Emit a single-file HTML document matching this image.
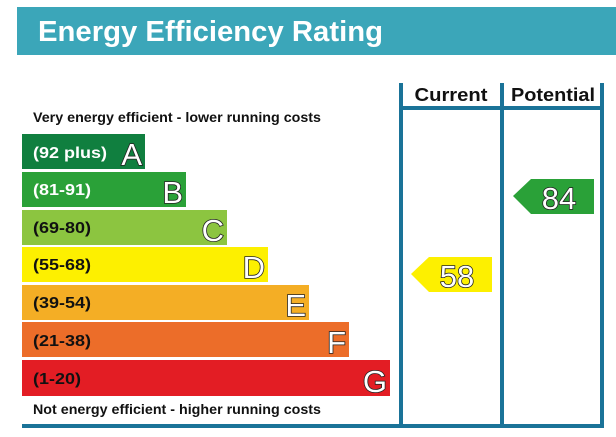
<!DOCTYPE html>
<html><head><style>
html,body{margin:0;padding:0;background:#fff;width:616px;height:437px;overflow:hidden}
svg{display:block}
text{font-family:"Liberation Sans",sans-serif}
</style></head><body>
<svg width="616" height="437" viewBox="0 0 616 437">
<rect x="17" y="7" width="599" height="48" fill="#3ba6b9"/>
<text x="38" y="41" fill="#fff" font-size="29" font-weight="bold" textLength="345" lengthAdjust="spacingAndGlyphs">Energy Efficiency Rating</text>
<text x="33" y="122" font-size="13.5" font-weight="bold" fill="#111" textLength="288" lengthAdjust="spacingAndGlyphs">Very energy efficient - lower running costs</text>
<text x="33" y="414" font-size="13.5" font-weight="bold" fill="#111" textLength="288" lengthAdjust="spacingAndGlyphs">Not energy efficient - higher running costs</text>
<g font-weight="bold" font-size="16">
<rect x="22" y="134" width="123" height="35" fill="#107f3f"/>
<text x="33" y="158" fill="#fff" textLength="74" lengthAdjust="spacingAndGlyphs">(92 plus)</text>
<rect x="22" y="172" width="164" height="35" fill="#2aa138"/>
<text x="33" y="195" fill="#fff" textLength="58" lengthAdjust="spacingAndGlyphs">(81-91)</text>
<rect x="22" y="210" width="205" height="35" fill="#8cc540"/>
<text x="33" y="233" fill="#111" textLength="58" lengthAdjust="spacingAndGlyphs">(69-80)</text>
<rect x="22" y="247" width="246" height="35" fill="#fdf000"/>
<text x="33" y="270" fill="#111" textLength="58" lengthAdjust="spacingAndGlyphs">(55-68)</text>
<rect x="22" y="285" width="287" height="35" fill="#f4ae25"/>
<text x="33" y="308" fill="#111" textLength="58" lengthAdjust="spacingAndGlyphs">(39-54)</text>
<rect x="22" y="322" width="327" height="35" fill="#ec6d29"/>
<text x="33" y="346" fill="#111" textLength="58" lengthAdjust="spacingAndGlyphs">(21-38)</text>
<rect x="22" y="360" width="368" height="36" fill="#e31d24"/>
<text x="33" y="384" fill="#111" textLength="48" lengthAdjust="spacingAndGlyphs">(1-20)</text>
</g>
<g font-size="31" fill="#fff" stroke="#222" stroke-width="1.6" text-anchor="end" paint-order="stroke">
<text x="142" y="165">A</text>
<text x="183" y="203">B</text>
<text x="224" y="241">C</text>
<text x="265" y="278">D</text>
<text x="306" y="316">E</text>
<text x="346" y="353">F</text>
<text x="387" y="392">G</text>
</g>
<g fill="#1a7398">
<rect x="399" y="83" width="4" height="345"/>
<rect x="500" y="83" width="4" height="345"/>
<rect x="600" y="83" width="4" height="345"/>
<rect x="399" y="106" width="205" height="4"/>
<rect x="22" y="424" width="582" height="4"/>
</g>
<text x="451" y="101" font-size="18" font-weight="bold" text-anchor="middle" fill="#111" textLength="73" lengthAdjust="spacingAndGlyphs">Current</text>
<text x="553" y="101" font-size="18" font-weight="bold" text-anchor="middle" fill="#111" textLength="84" lengthAdjust="spacingAndGlyphs">Potential</text>
<polygon points="411,274 429,257 492,257 492,292 429,292" fill="#fdf000"/>
<text x="457" y="287" font-size="31" text-anchor="middle" fill="#fff" stroke="#222" stroke-width="1.6" paint-order="stroke">58</text>
<polygon points="513,196 531,179 594,179 594,214 531,214" fill="#2aa138"/>
<text x="559" y="209" font-size="31" text-anchor="middle" fill="#fff" stroke="#222" stroke-width="1.6" paint-order="stroke">84</text>
</svg>
</body></html>
